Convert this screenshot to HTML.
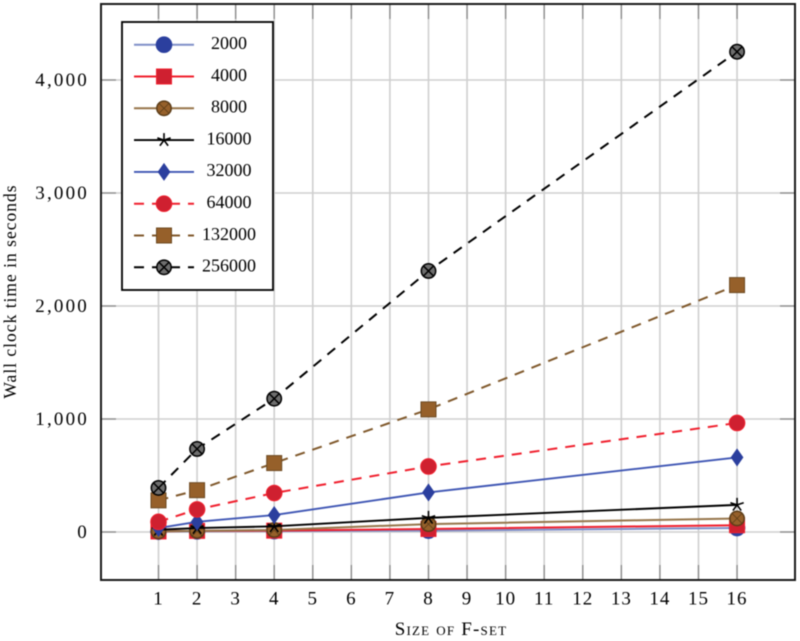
<!DOCTYPE html>
<html>
<head>
<meta charset="utf-8">
<style>
html,body{margin:0;padding:0;background:#fff;}
#chart{display:block;filter:blur(0.5px);}
text{font-family:"Liberation Serif",serif;fill:#000;}
</style>
</head>
<body>
<svg id="chart" width="800" height="641" viewBox="0 0 800 641" xmlns="http://www.w3.org/2000/svg"></svg>
<script>
const xCategories = [1, 2, 4, 8, 16];
const xTicks = [1,2,3,4,5,6,7,8,9,10,11,12,13,14,15,16];
const yTicks = [0, 1000, 2000, 3000, 4000];
const yTickLabels = ['0', '1,000', '2,000', '3,000', '4,000'];
const seriesNames = ['2000','4000','8000','16000','32000','64000','132000','256000'];
const values2000 = [3, 6, 8, 12, 35];
const values4000 = [5, 10, 12, 27, 60];
const values8000 = [5, 10, 18, 70, 120];
const values16000 = [20, 35, 50, 125, 240];
const values32000 = [35, 90, 150, 350, 660];
const values64000 = [90, 200, 345, 580, 965];
const values132000 = [280, 370, 610, 1085, 2185];
const values256000 = [390, 735, 1180, 2310, 4250];
const seriesValues = [values2000, values4000, values8000, values16000, values32000, values64000, values132000, values256000];

const NS = 'http://www.w3.org/2000/svg';
const svg = document.getElementById('chart');
const plot = {left:101, right:795, top:4, bottom:580};
function xScale(v){ return 158.5 + (v - 1) * 38.57; }
function yScale(v){ return 532 - v * 0.113; }
function mk(tag, attrs, parent){
  const el = document.createElementNS(NS, tag);
  for (const k in attrs) el.setAttribute(k, attrs[k]);
  (parent || svg).appendChild(el);
  return el;
}
const styles = [
  {color:'#7f8fc8', mcolor:'#2b3f9e', w:2, dash:'', m:'circle'},
  {color:'#f0202e', mcolor:'#cf2030', w:2, dash:'', m:'square'},
  {color:'#96754a', mcolor:'#96602a', w:2, dash:'', m:'ocross'},
  {color:'#000000', mcolor:'#000000', w:1.9, dash:'', m:'star'},
  {color:'#3f56b4', mcolor:'#2b3f9e', w:1.9, dash:'', m:'diamond'},
  {color:'#f0202e', mcolor:'#cf2030', w:2, dash:'10 8', m:'circle'},
  {color:'#80592c', mcolor:'#96602a', w:2, dash:'10 8', m:'square'},
  {color:'#000000', mcolor:'#6e6e6e', w:2, dash:'10 8', m:'otimes'}
];
function marker(kind, cx, cy, st, parent){
  const g = mk('g', {}, parent);
  if (kind === 'circle') {
    mk('circle', {cx:cx, cy:cy, r:7.8, fill:st.mcolor, stroke:st.color === '#f0202e' ? '#f0202e' : st.mcolor, 'stroke-width':1}, g);
  } else if (kind === 'square') {
    const s = 7.5;
    mk('rect', {x:cx-s, y:cy-s, width:2*s, height:2*s, fill:st.mcolor, stroke:st.color === '#f0202e' ? '#f0202e' : '#6d4a22', 'stroke-width':1}, g);
  } else if (kind === 'ocross' || kind === 'otimes') {
    const r = 7.2, d = r * 0.7;
    const stroke = kind === 'otimes' ? '#000' : '#5c3d18';
    mk('circle', {cx:cx, cy:cy, r:r, fill:st.mcolor, stroke:stroke, 'stroke-width':1.5}, g);
    mk('line', {x1:cx-d, y1:cy-d, x2:cx+d, y2:cy+d, stroke:stroke, 'stroke-width':kind === 'otimes' ? 1.5 : 0.8}, g);
    mk('line', {x1:cx-d, y1:cy+d, x2:cx+d, y2:cy-d, stroke:stroke, 'stroke-width':kind === 'otimes' ? 1.5 : 0.8}, g);
  } else if (kind === 'star') {
    const r = 7;
    for (let i = 0; i < 5; i++) {
      const a = -Math.PI / 2 + i * 2 * Math.PI / 5;
      mk('line', {x1:cx, y1:cy, x2:cx + r * Math.cos(a), y2:cy + r * Math.sin(a), stroke:'#000', 'stroke-width':1.6}, g);
    }
  } else if (kind === 'diamond') {
    const w = 6, h = 8.5;
    mk('polygon', {points:[cx,cy-h,cx+w,cy,cx,cy+h,cx-w,cy].join(' '), fill:st.mcolor, stroke:st.mcolor, 'stroke-width':0.6}, g);
  }
  return g;
}

// background and grid
const gridGroup = mk('g', {});


xTicks.forEach(function(t){
  const x = xScale(t);
  const l = mk('line', {x1:x, y1:plot.top, x2:x, y2:plot.bottom, stroke:'#cfcfcf', 'stroke-width':1.6}, gridGroup);
  
  
  mk('line', {x1:x, y1:plot.bottom-15, x2:x, y2:plot.bottom, stroke:'#8a8a8a', 'stroke-width':1.3}, gridGroup);
  mk('line', {x1:x, y1:plot.top, x2:x, y2:plot.top+15, stroke:'#8a8a8a', 'stroke-width':1.3}, gridGroup);
  const lab = mk('text', {x:x, y:604.5, 'text-anchor':'middle', 'font-size':19, 'letter-spacing':'1'});
  lab.textContent = String(t);
  
  
});
yTicks.forEach(function(t, i){
  const y = yScale(t);
  const l = mk('line', {x1:plot.left, y1:y, x2:plot.right, y2:y, stroke:'#cfcfcf', 'stroke-width':1.6}, gridGroup);
  
  
  mk('line', {x1:plot.left, y1:y, x2:plot.left+15, y2:y, stroke:'#8a8a8a', 'stroke-width':1.3}, gridGroup);
  mk('line', {x1:plot.right-15, y1:y, x2:plot.right, y2:y, stroke:'#8a8a8a', 'stroke-width':1.3}, gridGroup);
  const lab = mk('text', {x:89, y:y+6, 'text-anchor':'end', 'font-size':19, 'letter-spacing':'2.2'});
  lab.textContent = yTickLabels[i];
  
  
});

// series
seriesValues.forEach(function(vals, i){
  const st = styles[i];
  const g = mk('g', {});
  
  
  const pts = vals.map(function(v, j){ return xScale(xCategories[j]) + ',' + yScale(v); }).join(' ');
  const attrs = {points:pts, fill:'none', stroke:st.color, 'stroke-width':st.w};
  if (st.dash) attrs['stroke-dasharray'] = st.dash;
  mk('polyline', attrs, g);
  vals.forEach(function(v, j){
    const m = marker(st.m, xScale(xCategories[j]), yScale(v), st, g);
    
    
  });
});

// frame
const frame = mk('rect', {x:plot.left, y:plot.top, width:plot.right-plot.left, height:plot.bottom-plot.top, fill:'none', stroke:'#1a1a1a', 'stroke-width':2});



// legend
const legend = mk('g', {});


mk('rect', {x:122, y:22, width:151, height:268, fill:'#fff', stroke:'#000', 'stroke-width':1.8}, legend);
seriesNames.forEach(function(name, i){
  const st = styles[i];
  const y = 44.7 + i * 31.8;
  const e = mk('g', {}, legend);
  
  
  const attrs = {x1:134, y1:y, x2:194, y2:y, stroke:st.color, 'stroke-width':st.w};
  if (st.dash) attrs['stroke-dasharray'] = '10 8';
  mk('line', attrs, e);
  marker(st.m, 164, y, st, e);
  const t = mk('text', {x:229, y:y+4.3, 'text-anchor':'middle', 'font-size':18}, e);
  t.textContent = name;
});

// axis titles
const xt = mk('text', {x:451, y:635, 'text-anchor':'middle', 'font-size':19});


xt.style.fontVariant = 'small-caps';
xt.style.letterSpacing = '1.2px';
xt.textContent = 'Size of F-set';
const yt = mk('text', {x:0, y:0, 'text-anchor':'middle', 'font-size':17.5, transform:'translate(16,291.5) rotate(-90)'});


yt.style.letterSpacing = '1px';
yt.textContent = 'Wall clock time in seconds';
</script>
</body>
</html>
